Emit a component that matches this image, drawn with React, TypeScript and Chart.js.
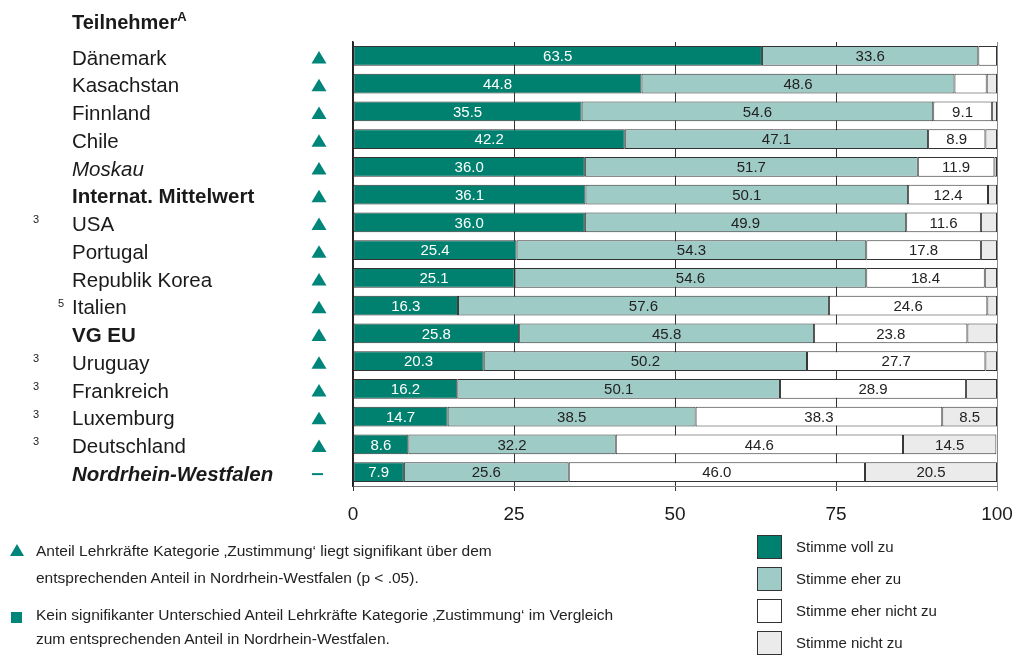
import React, { useEffect, useRef } from "react";
import { Chart, registerables } from "chart.js";

Chart.register(...registerables);

const categories = [
  "Dänemark",
  "Kasachstan",
  "Finnland",
  "Chile",
  "Moskau",
  "Internat. Mittelwert",
  "USA",
  "Portugal",
  "Republik Korea",
  "Italien",
  "VG EU",
  "Uruguay",
  "Frankreich",
  "Luxemburg",
  "Deutschland",
  "Nordrhein-Westfalen",
];
const labelStyles = [
  "normal", "normal", "normal", "normal", "italic", "bold", "normal", "normal",
  "normal", "normal", "bold", "normal", "normal", "normal", "normal", "bolditalic",
];
const markers = [
  "up", "up", "up", "up", "up", "up", "up", "up",
  "up", "up", "up", "up", "up", "up", "up", "none",
];
const footnoteMarks = ["", "", "", "", "", "", "3", "", "", "5", "", "3", "3", "3", "3", ""];

const stronglyAgree = [63.5, 44.8, 35.5, 42.2, 36.0, 36.1, 36.0, 25.4, 25.1, 16.3, 25.8, 20.3, 16.2, 14.7, 8.6, 7.9];
const agree = [33.6, 48.6, 54.6, 47.1, 51.7, 50.1, 49.9, 54.3, 54.6, 57.6, 45.8, 50.2, 50.1, 38.5, 32.2, 25.6];
const disagree = [2.9, 5.0, 9.1, 8.9, 11.9, 12.4, 11.6, 17.8, 18.4, 24.6, 23.8, 27.7, 28.9, 38.3, 44.6, 46.0];
const stronglyDisagree = [0, 1.6, 0.8, 1.8, 0.4, 1.4, 2.5, 2.5, 1.9, 1.5, 4.6, 1.8, 4.8, 8.5, 14.5, 20.5];

const seriesNames = ["Stimme voll zu", "Stimme eher zu", "Stimme eher nicht zu", "Stimme nicht zu"];
const seriesColors = ["#00806f", "#9fcbc6", "#ffffff", "#ebebeb"];
const xTicks = [0, 25, 50, 75, 100];

const TEAL = "#00857a";
const FONT = "'Liberation Sans', Arial, Helvetica, sans-serif";

const barLabelsPlugin = {
  id: "barLabels",
  afterDatasetsDraw(chart: any) {
    const ctx = chart.ctx;
    ctx.save();
    ctx.font = `15px ${FONT}`;
    ctx.textAlign = "center";
    ctx.textBaseline = "middle";
    chart.data.datasets.forEach((ds: any, di: number) => {
      const meta = chart.getDatasetMeta(di);
      meta.data.forEach((bar: any, i: number) => {
        const v = ds.data[i];
        if (v == null || v < 6) return;
        const p = bar.getProps(["x", "base", "y"], true);
        ctx.fillStyle = di === 0 ? "#ffffff" : "#222222";
        ctx.fillText(v.toFixed(1), (p.x + p.base) / 2, p.y + 1);
      });
    });
    ctx.restore();
  },
};

const markersPlugin = {
  id: "rowMarkers",
  afterDraw(chart: any) {
    const ctx = chart.ctx;
    const yScale = chart.scales.y;
    ctx.save();
    categories.forEach((_, i) => {
      const y = yScale.getPixelForValue(i) + 1;
      ctx.fillStyle = TEAL;
      if (markers[i] === "up") {
        ctx.beginPath();
        ctx.moveTo(319, y - 6);
        ctx.lineTo(326.5, y + 6.5);
        ctx.lineTo(311.5, y + 6.5);
        ctx.closePath();
        ctx.fill();
      } else {
        ctx.fillRect(312, y, 11, 2);
      }
      const fm = footnoteMarks[i];
      if (fm) {
        ctx.fillStyle = "#222";
        ctx.font = `11px ${FONT}`;
        ctx.textAlign = "left";
        ctx.textBaseline = "middle";
        ctx.fillText(fm, fm === "5" ? 58 : 33, y - 3);
      }
    });
    ctx.restore();
  },
};

export default function App() {
  const canvasRef = useRef<HTMLCanvasElement | null>(null);

  useEffect(() => {
    if (!canvasRef.current) return;
    const values = [stronglyAgree, agree, disagree, stronglyDisagree];
    const chart = new Chart(canvasRef.current, {
      type: "bar",
      data: {
        labels: categories,
        datasets: values.map((d, k) => ({
          label: seriesNames[k],
          data: d,
          backgroundColor: seriesColors[k],
          borderColor: "#333333",
          borderWidth: 1,
          borderSkipped: false,
          barPercentage: 0.72,
          categoryPercentage: 1,
        })),
      },
      options: {
        indexAxis: "y",
        animation: false,
        responsive: false,
        maintainAspectRatio: false,
        layout: { padding: { left: 72, top: 42, right: 0, bottom: 0 } },
        plugins: {
          legend: { display: false },
          tooltip: { enabled: false },
        },
        scales: {
          x: {
            stacked: true,
            min: 0,
            max: 100,
            afterBuildTicks: (scale: any) => {
              scale.ticks = xTicks.map((v) => ({ value: v }));
            },
            afterFit: (scale: any) => {
              scale.height = 172;
              scale.paddingRight = 26;
              scale.paddingLeft = 0;
            },
            ticks: {
              padding: 12,
              color: "#1a1a1a",
              font: { family: FONT, size: 19 },
              maxRotation: 0,
            },
            grid: {
              color: (ctx: any) => (ctx.tick && ctx.tick.value === 100 ? "#8a8a8a" : "#333333"),
              lineWidth: 1,
              tickLength: 5,
              drawOnChartArea: true,
            },
            border: { display: true, color: "#777777", width: 1 },
          },
          y: {
            stacked: true,
            afterFit: (scale: any) => {
              scale.width = 353 - 72;
            },
            ticks: {
              crossAlign: "far",
              color: "#1a1a1a",
              autoSkip: false,
              labelOffset: 3,
              font: (ctx: any) => {
                const s = labelStyles[ctx.index] || "normal";
                return {
                  family: FONT,
                  size: 20.5,
                  weight: s === "bold" || s === "bolditalic" ? "bold" : "normal",
                  style: s === "italic" || s === "bolditalic" ? "italic" : "normal",
                };
              },
            },
            grid: { display: false },
            border: { display: true, color: "#222222", width: 1.5 },
          },
        },
      },
      plugins: [barLabelsPlugin, markersPlugin],
    } as any);
    return () => chart.destroy();
  }, []);

  const textStyle: React.CSSProperties = {
    position: "absolute",
    fontFamily: FONT,
    color: "#222",
    whiteSpace: "nowrap",
  };

  return (
    <div style={{ position: "absolute", left: 0, top: 0, width: 1023, height: 658, background: "#fff", overflow: "hidden" }}>
      <canvas ref={canvasRef} width={1023} height={658} style={{ position: "absolute", left: 0, top: 0, width: 1023, height: 658 }} />
      <div style={{ ...textStyle, left: 72, top: 8, fontSize: 20, fontWeight: "bold", color: "#1a1a1a", lineHeight: "28px" }}>
        Teilnehmer<sup style={{ fontSize: 13, verticalAlign: "top", position: "relative", top: -5 }}>A</sup>
      </div>

      <div style={{ position: "absolute", left: 10, top: 544, width: 0, height: 0, borderLeft: "7px solid transparent", borderRight: "7px solid transparent", borderBottom: `12px solid ${TEAL}` }} />
      <div style={{ ...textStyle, left: 36, top: 537, fontSize: 15.5, lineHeight: "27px" }}>
        Anteil Lehrkräfte Kategorie ‚Zustimmung‘ liegt signifikant über dem
        <br />
        entsprechenden Anteil in Nordrhein-Westfalen (p &lt; .05).
      </div>
      <div style={{ position: "absolute", left: 11, top: 612, width: 11, height: 11, background: TEAL }} />
      <div style={{ ...textStyle, left: 36, top: 603, fontSize: 15.5, lineHeight: "24px" }}>
        Kein signifikanter Unterschied Anteil Lehrkräfte Kategorie ‚Zustimmung‘ im Vergleich
        <br />
        zum entsprechenden Anteil in Nordrhein-Westfalen.
      </div>

      {seriesNames.map((name, k) => (
        <React.Fragment key={name}>
          <div style={{ position: "absolute", left: 757, top: 535 + k * 32, width: 23, height: 22, background: seriesColors[k], border: "1.5px solid #333" }} />
          <div style={{ ...textStyle, left: 796, top: 537 + k * 32, fontSize: 15, lineHeight: "20px" }}>{name}</div>
        </React.Fragment>
      ))}
    </div>
  );
}
